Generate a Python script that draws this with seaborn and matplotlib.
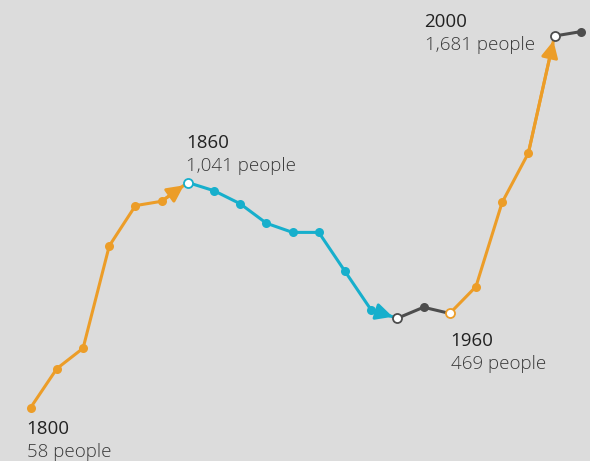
import matplotlib
matplotlib.use("Agg")
import matplotlib.pyplot as plt
import pandas as pd
import seaborn as sns

# Population by decade
years = [1800, 1810, 1820, 1830, 1840, 1850, 1860, 1870, 1880, 1890, 1900,
         1910, 1920, 1930, 1940, 1950, 1960, 1970, 1980, 1990, 2000, 2010]
people = [58, 228, 317, 764, 940, 959, 1041, 1005, 948, 863, 823,
          823, 653, 484, 448, 496, 469, 586, 954, 1169, 1681, 1700]

# Coloured stretches of the path: (first year, last year, colour, arrow at end)
segments = [(1800, 1860, "#EC9D28", True),
            (1860, 1940, "#17AFCC", True),
            (1940, 1960, "#4D4D4D", False),
            (1960, 2000, "#EC9D28", True),
            (2000, 2010, "#4D4D4D", False)]

# Highlighted years drawn as hollow circles, with their edge colour
hollow_years = [1860, 1940, 1960, 2000]
hollow_colors = ["#17AFCC", "#4D4D4D", "#EC9D28", "#4D4D4D"]

# Labels: year, text, offset (pixels) of the label from the point
label_years = [1800, 1860, 1960, 2000]
label_text = ["58 people", "1,041 people", "469 people", "1,681 people"]
label_offsets = [(-4, -26), (-2, 35), (1, -33), (-130, 9)]

df = pd.DataFrame({"year": years, "people": people})

sns.set_style("white")
plt.rcParams["font.family"] = ["Open Sans", "DejaVu Sans"]

bg = "#DCDCDC"
fig = plt.figure(figsize=(5.9, 4.61), dpi=100, facecolor=bg)
ax = fig.add_axes([0, 0, 1, 1])
ax.set_facecolor(bg)

for start, end, color, arrow in segments:
    sub = df[(df.year >= start) & (df.year <= end)]
    sns.lineplot(data=sub, x="year", y="people", color=color, lw=2.2,
                 marker="o", markersize=6.5, markeredgewidth=0, ax=ax,
                 sort=False, zorder=2)
    if arrow:
        prev = sub.iloc[-2]
        last = sub.iloc[-1]
        ax.annotate("", xy=(last.year, last.people), xytext=(prev.year, prev.people),
                    arrowprops=dict(arrowstyle="-|>,head_length=0.5,head_width=0.25",
                                    color=color, lw=2.2, mutation_scale=20,
                                    shrinkA=0, shrinkB=3.5),
                    zorder=3)

hol = df[df.year.isin(hollow_years)]
for (_, row), ec in zip(hol.iterrows(), hollow_colors):
    ax.plot(row.year, row.people, "o", ms=6.5, mfc="white", mec=ec, mew=1.3, zorder=4)

for yr, txt, (dx, dy) in zip(label_years, label_text, label_offsets):
    val = df.loc[df.year == yr, "people"].iloc[0]
    ax.annotate(str(yr), xy=(yr, val), xytext=(dx, dy), textcoords="offset pixels",
                fontsize=13.5, color="#222222", ha="left", va="baseline")
    ax.annotate(txt, xy=(yr, val), xytext=(dx, dy - 23), textcoords="offset pixels",
                fontsize=13.5, fontweight="light", color="#383838",
                ha="left", va="baseline")

ax.set_xlim(1788.28, 2013.55)
ax.set_ylim(-175.7, 1838.3)
ax.set_axis_off()

fig.savefig("out.png", dpi=100, facecolor=bg)
